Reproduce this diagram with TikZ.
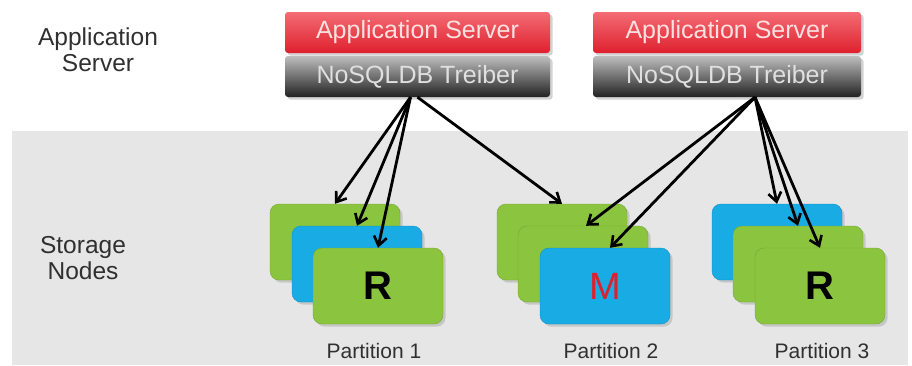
\documentclass[tikz,border=0pt]{standalone}
\usepackage{fontspec}
\setmainfont{Liberation Sans}
\usetikzlibrary{arrows.meta,shadows}
\definecolor{srvred}{RGB}{222,32,46}
\definecolor{srvredlight}{RGB}{244,108,116}
\definecolor{drvdark}{RGB}{34,34,34}
\definecolor{drvlight}{RGB}{190,190,190}
\definecolor{nodegreen}{RGB}{139,196,62}
\definecolor{nodeblue}{RGB}{24,171,228}
\definecolor{bandgray}{RGB}{230,230,230}
\definecolor{labelgray}{RGB}{48,48,48}
\newcommand{\boxFont}[0]{\fontsize{25}{25}\selectfont}
\newcommand{\sideFont}[0]{\fontsize{24.5}{26}\selectfont}

\begin{document}
\begin{tikzpicture}[x=1pt, y=-1pt]
  \tikzset{
    server/.style={rounded corners=3pt, minimum width=#1, minimum height=41pt,
      inner sep=0pt, font=\boxFont, drop shadow={opacity=0.35}},
    appsrv/.style={server=#1, top color=srvredlight, bottom color=srvred, text=white!88!red},
    driver/.style={server=#1, top color=drvlight, bottom color=drvdark, text=white!88!black},
    store/.style={rounded corners=9pt, minimum width=130pt, minimum height=76pt,
      inner sep=0pt, draw=#1!85!black, fill=#1, drop shadow={opacity=0.3}},
    sidelabel/.style={align=center, font=\sideFont, text=labelgray},
    partlabel/.style={font=\fontsize{21}{21}\selectfont, text=labelgray},
    link/.style={-{Straight Barb[length=9pt,width=13pt,line width=2.6pt]}, line width=2.8pt}
  }
  \useasboundingbox (0,0) rectangle (912,365);
  \fill[bandgray] (12,131) rectangle (908,365);

  \node[sidelabel] (lblapp) at (98,50) {Application\\Server};
  \node[sidelabel] (lblstore) at (83,258) {Storage\\Nodes};

  \node[appsrv=265pt] (as1) at (417.5,32.5) {Application Server};
  \node[driver=265pt] (drv1) at (417.5,76.5) {NoSQLDB Treiber};
  \node[appsrv=268pt] (as2) at (727,32.5) {Application Server};
  \node[driver=268pt] (drv2) at (727,76.5) {NoSQLDB Treiber};

  % partition 1
  \node[store=nodegreen] (p1a) at (335,242) {};
  \node[store=nodeblue] (p1b) at (357,264) {};
  \node[store=nodegreen, font=\fontsize{40}{40}\bfseries] (p1c) at (378,286) {R};
  % partition 2
  \node[store=nodegreen] (p2a) at (562,242) {};
  \node[store=nodegreen] (p2b) at (583,264) {};
  \node[store=nodeblue, text=srvred, font=\fontsize{38}{38}\selectfont] (p2c) at (605,286) {M};
  % partition 3
  \node[store=nodeblue] (p3a) at (777,242) {};
  \node[store=nodegreen] (p3b) at (798,264) {};
  \node[store=nodegreen, font=\fontsize{40}{40}\bfseries] (p3c) at (820,286) {R};

  \node[partlabel] (lbl1) at (374,351) {Partition 1};
  \node[partlabel] (lbl2) at (611,351) {Partition 2};
  \node[partlabel] (lbl3) at (822,351) {Partition 3};

  \draw[link] ([xshift=-7pt]drv1.south) -- (p1a.north);
  \draw[link] ([xshift=-7pt]drv1.south) -- (p1b.north);
  \draw[link] ([xshift=-7pt]drv1.south) -- (p1c.north);
  \draw[link] (drv1.south) -- (p2a.north);
  \draw[link] ([xshift=28pt]drv2.south) -- ([xshift=3pt]p2b.north);
  \draw[link] ([xshift=28pt]drv2.south) -- ([xshift=5pt]p2c.north);
  \draw[link] ([xshift=28pt]drv2.south) -- (p3a.north);
  \draw[link] ([xshift=28pt]drv2.south) -- (p3b.north);
  \draw[link] ([xshift=28pt]drv2.south) -- (p3c.north);
\end{tikzpicture}
\end{document}
